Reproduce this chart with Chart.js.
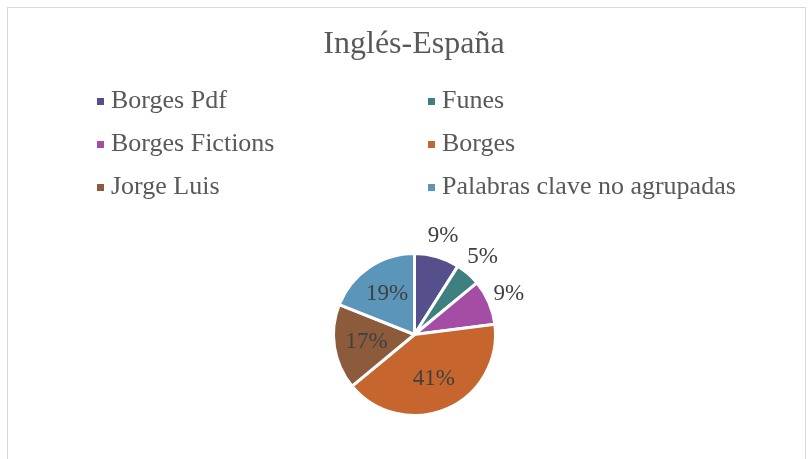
<!DOCTYPE html>
<html>
<head>
<meta charset="utf-8">
<script src="https://cdn.jsdelivr.net/npm/chart.js@4"></script>
<style>
  html,body{margin:0;padding:0;background:#fff;}
  #wrap{position:relative;width:811px;height:459px;overflow:hidden;}
  #frame{position:absolute;left:7px;top:7px;width:797px;height:470px;border:1px solid #d9d9d9;}
  canvas{position:absolute;left:0;top:0;}
</style>
</head>
<body>
<div id="wrap">
  <div id="frame"></div>
  <canvas id="pie" width="811" height="459"></canvas>
</div>
<script>
const labels = ['Borges Pdf', 'Funes', 'Borges Fictions', 'Borges', 'Jorge Luis', 'Palabras clave no agrupadas'];
const values = [9, 5, 9, 41, 17, 19];
const colors = ['#55508b', '#3e7f80', '#a54da5', '#c6652e', '#8b5b3b', '#5b95b9'];
const title = 'Inglés-España';

const FONT = '"Liberation Serif", "Times New Roman", serif';

// title + legend in two columns, like the original
// (the built-in title gets squeezed to the narrow pie area, so it's drawn here)
const headerAndLegend = {
    id: 'headerAndLegend',
    afterDraw(chart){
        const ctx = chart.ctx;
        ctx.save();
        ctx.font = '32px ' + FONT;
        ctx.fillStyle = '#595959';
        ctx.textAlign = 'center';
        ctx.textBaseline = 'alphabetic';
        ctx.fillText(title, 414, 53);

        const colX = [97, 428];
        const rowY = [101, 144, 187];
        ctx.font = '26px ' + FONT;
        ctx.textAlign = 'left';
        ctx.textBaseline = 'middle';
        chart.data.labels.forEach((lab, i)=>{
            const x = colX[i % 2];
            const y = rowY[Math.floor(i / 2)];
            ctx.fillStyle = chart.data.datasets[0].backgroundColor[i];
            ctx.fillRect(x, y - 3, 7, 7);
            ctx.fillStyle = '#595959';
            ctx.fillText(lab, x + 14, y);
        });
        ctx.restore();
    }
};

// percent labels: small slices outside, others inside
const pctLabels = {
    id: 'pctLabels',
    afterDatasetsDraw(chart){
        const ctx = chart.ctx;
        const meta = chart.getDatasetMeta(0);
        const data = chart.data.datasets[0].data;
        const total = data.reduce((a, b)=>a + b, 0);
        ctx.save();
        ctx.font = '23px ' + FONT;
        ctx.fillStyle = '#404040';
        ctx.textAlign = 'center';
        ctx.textBaseline = 'middle';
        meta.data.forEach((arc, i)=>{
            const p = data[i] / total * 100;
            const mid = (arc.startAngle + arc.endAngle) / 2;
            const f = p < 10 ? 1.27 : 0.6;
            const x = arc.x + Math.cos(mid) * arc.outerRadius * f;
            const y = arc.y + Math.sin(mid) * arc.outerRadius * f;
            ctx.fillText(Math.round(p) + '%', x, y);
        });
        ctx.restore();
    }
};

new Chart(document.getElementById('pie'), {
    type: 'pie',
    data: {
        labels: labels,
        datasets: [{
            data: values,
            backgroundColor: colors,
            borderColor: '#ffffff',
            borderWidth: 3
        }]
    },
    options: {
        responsive: false,
        animation: false,
        layout: {
            padding: {left: 332, right: 314, top: 252, bottom: 42}
        },
        plugins: {
            legend: {display: false},
            tooltip: {enabled: false},
            title: {display: false}
        }
    },
    plugins: [headerAndLegend, pctLabels]
});
</script>
</body>
</html>
